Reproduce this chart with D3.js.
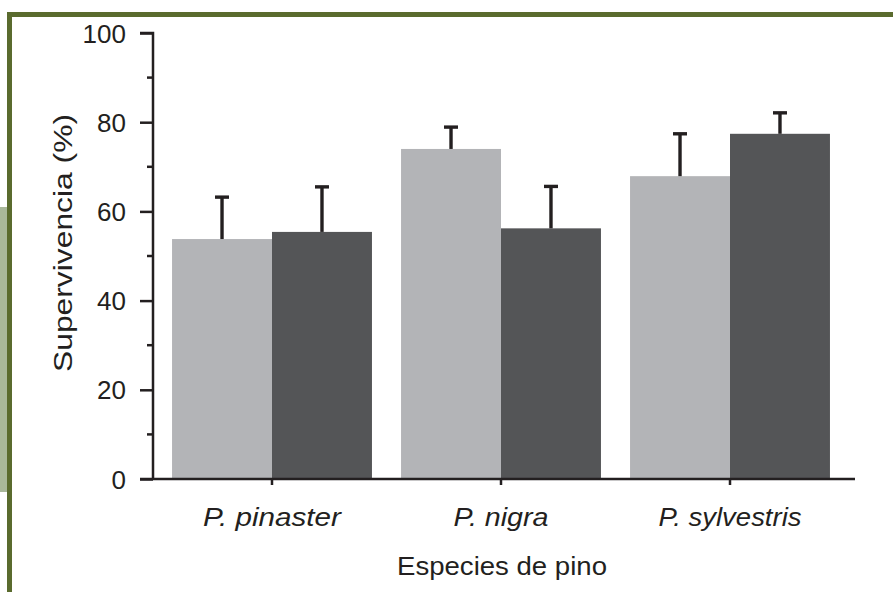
<!DOCTYPE html>
<html>
<head>
<meta charset="utf-8">
<script src="https://cdn.jsdelivr.net/npm/d3@7"></script>
<style>
  body { margin: 0; background: #fff; }
  svg { display: block; font-family: "Liberation Sans", Arial, sans-serif; }
</style>
</head>
<body>
<svg id="chart" width="893" height="592"></svg>
<script>
// Data
const species = ['P. pinaster', 'P. nigra', 'P. sylvestris'];
const treatments = ['light', 'dark'];
const lightValues = [53.8, 74.0, 67.9];
const lightErrors = [9.4, 4.9, 9.5];
const darkValues = [55.4, 56.2, 77.4];
const darkErrors = [10.1, 9.4, 4.7];
const yTicks = [0, 20, 40, 60, 80, 100];

const colors = { light: '#b3b4b7', dark: '#545557' };
const ink = '#231f20';

const svg = d3.select('#chart');

// frame decoration
svg.append('rect').attr('x', 0).attr('y', 207).attr('width', 8).attr('height', 285).attr('fill', '#a9b89a');
svg.append('rect').attr('x', 7).attr('y', 12).attr('width', 886).attr('height', 5).attr('fill', '#5a6b2e');
svg.append('rect').attr('x', 7).attr('y', 12).attr('width', 5).attr('height', 580).attr('fill', '#5a6b2e');

const y = d3.scaleLinear().domain([0, 100]).range([479, 33]);
const x0 = d3.scaleBand().domain(species).range([157.5, 844.5]).paddingInner(0.127).paddingOuter(0.0635);
const x1 = d3.scaleBand().domain(treatments).range([0, x0.bandwidth()]);

const rows = species.map((s, i) => ({
  species: s,
  bars: [
    { key: 'light', value: lightValues[i], err: lightErrors[i] },
    { key: 'dark', value: darkValues[i], err: darkErrors[i] }
  ]
}));

const groups = svg.append('g').selectAll('g')
  .data(rows)
  .join('g')
  .attr('transform', d => `translate(${x0(d.species)},0)`);

groups.selectAll('rect')
  .data(d => d.bars)
  .join('rect')
  .attr('x', d => x1(d.key))
  .attr('y', d => y(d.value))
  .attr('width', x1.bandwidth())
  .attr('height', d => y(0) - y(d.value))
  .attr('fill', d => colors[d.key]);

// error bars (upper only)
const errs = groups.selectAll('g.err')
  .data(d => d.bars)
  .join('g')
  .attr('class', 'err')
  .attr('stroke', ink)
  .attr('stroke-width', 3.4);
errs.append('line')
  .attr('x1', d => x1(d.key) + x1.bandwidth() / 2)
  .attr('x2', d => x1(d.key) + x1.bandwidth() / 2)
  .attr('y1', d => y(d.value))
  .attr('y2', d => y(d.value + d.err));
errs.append('line')
  .attr('x1', d => x1(d.key) + x1.bandwidth() / 2 - 7)
  .attr('x2', d => x1(d.key) + x1.bandwidth() / 2 + 7)
  .attr('y1', d => y(d.value + d.err))
  .attr('y2', d => y(d.value + d.err));

// y axis
const yAxis = svg.append('g')
  .attr('transform', 'translate(153,0)')
  .call(d3.axisLeft(y).tickValues(yTicks).tickSize(13).tickPadding(14));
yAxis.select('.domain').attr('stroke', ink).attr('stroke-width', 2.5).attr('d', `M-13,${y(100)}H0V${y(0)}`);
yAxis.selectAll('.tick line').attr('stroke', ink).attr('stroke-width', 2.5);
yAxis.selectAll('.tick text').attr('font-size', 26).attr('fill', ink).attr('dy', '0.35em')
  .attr('font-family', '"Liberation Sans", Arial, sans-serif');

// minor ticks
svg.append('g').selectAll('line')
  .data([10, 30, 50, 70, 90])
  .join('line')
  .attr('x1', 147).attr('x2', 153)
  .attr('y1', d => y(d)).attr('y2', d => y(d))
  .attr('stroke', ink).attr('stroke-width', 2.5);

// x axis
svg.append('line')
  .attr('x1', 140).attr('x2', 855)
  .attr('y1', y(0)).attr('y2', y(0))
  .attr('stroke', ink).attr('stroke-width', 2.5);
svg.append('g').selectAll('line')
  .data(species)
  .join('line')
  .attr('x1', d => x0(d) + x0.bandwidth() / 2)
  .attr('x2', d => x0(d) + x0.bandwidth() / 2)
  .attr('y1', y(0)).attr('y2', y(0) + 6)
  .attr('stroke', ink).attr('stroke-width', 2.5);

const labelWidths = [138, 95, 143];
svg.append('g').selectAll('text')
  .data(species)
  .join('text')
  .attr('x', d => x0(d) + x0.bandwidth() / 2)
  .attr('y', 526)
  .attr('text-anchor', 'middle')
  .attr('font-size', 25)
  .attr('font-style', 'italic')
  .attr('fill', ink)
  .attr('textLength', (d, i) => labelWidths[i])
  .attr('lengthAdjust', 'spacingAndGlyphs')
  .text(d => d);

svg.append('text')
  .attr('x', 502).attr('y', 575)
  .attr('text-anchor', 'middle')
  .attr('font-size', 25)
  .attr('fill', ink)
  .attr('textLength', 210)
  .attr('lengthAdjust', 'spacingAndGlyphs')
  .text('Especies de pino');

svg.append('text')
  .attr('transform', 'translate(72,243) rotate(-90)')
  .attr('text-anchor', 'middle')
  .attr('font-size', 26)
  .attr('fill', ink)
  .attr('textLength', 258)
  .attr('lengthAdjust', 'spacingAndGlyphs')
  .text('Supervivencia (%)');
</script>
</body>
</html>
